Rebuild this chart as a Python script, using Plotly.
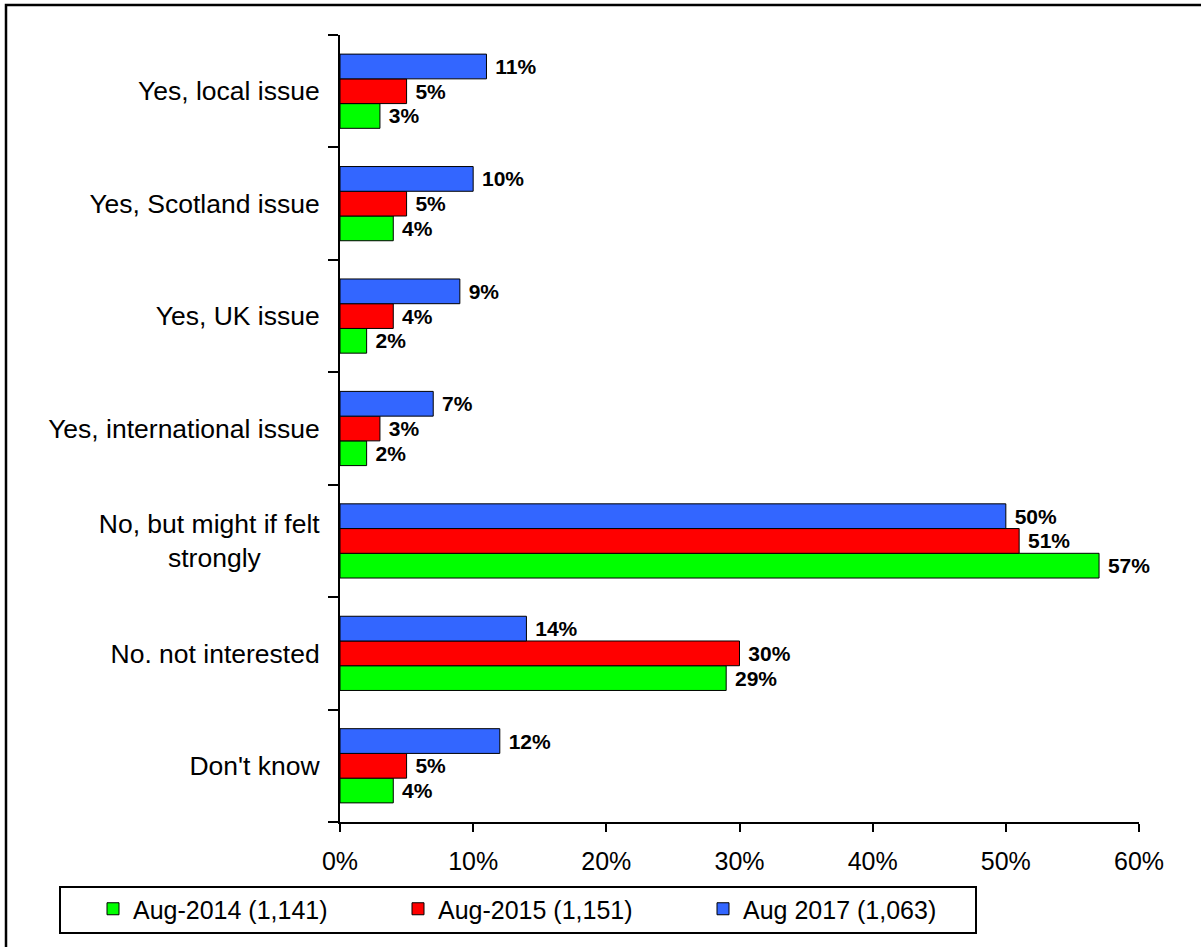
import plotly.graph_objects as go

categories = [
    "Yes, local issue",
    "Yes, Scotland issue",
    "Yes, UK issue",
    "Yes, international issue",
    "No, but might if felt<br>strongly" + "\u00a0" * 8,
    "No. not interested",
    "Don't know",
]
aug_2014 = [3, 4, 2, 2, 57, 29, 4]
aug_2015 = [5, 5, 4, 3, 51, 30, 5]
aug_2017 = [11, 10, 9, 7, 50, 14, 12]

series_names = ["Aug-2014 (1,141)", "Aug-2015 (1,151)", "Aug 2017 (1,063)"]
series_values = [aug_2014, aug_2015, aug_2017]
series_colors = ["#00FF00", "#FF0000", "#3366FF"]
x_ticks = [0, 10, 20, 30, 40, 50, 60]
x_tick_labels = ["0%", "10%", "20%", "30%", "40%", "50%", "60%"]

FONT = "Liberation Sans, Arial, sans-serif"

fig = go.Figure()
for name, vals, col in zip(series_names, series_values, series_colors):
    fig.add_trace(go.Bar(
        name=name,
        y=categories,
        x=vals,
        orientation="h",
        marker=dict(color=col, line=dict(color="black", width=1)),
        text=[f"{v}%" for v in vals],
        texttemplate="\u00a0%{text}",
        textposition="outside",
        constraintext="none",
        cliponaxis=False,
        textfont=dict(family=FONT, size=21, color="black", weight="bold"),
    ))

L, R, T, B = 340, 62, 35, 125
W, H = 1201, 947
pw, ph = W - L - R, H - T - B

def px_x(px):
    return (px - L) / pw

def px_y(py):
    return (H - B - py) / ph

fig.update_layout(
    width=W, height=H,
    margin=dict(l=L, r=R, t=T, b=B, pad=0),
    paper_bgcolor="white", plot_bgcolor="white",
    barmode="group", bargap=0.34, bargroupgap=0,
    font=dict(family=FONT, size=25, color="black"),
    showlegend=True,
    legend=dict(
        orientation="h",
        x=px_x(93), xanchor="left",
        y=px_y(909), yanchor="middle",
        entrywidth=260, entrywidthmode="pixels",
        borderwidth=0, bgcolor="rgba(0,0,0,0)",
        font=dict(family=FONT, size=25, color="black"),
        traceorder="normal",
    ),
    xaxis=dict(
        range=[0, 60], tickvals=x_ticks, ticktext=x_tick_labels,
        showgrid=False, zeroline=False,
        showline=True, linecolor="black", linewidth=2,
        ticks="outside", ticklen=8, tickwidth=2, tickcolor="black",
        ticklabelstandoff=8,
        tickfont=dict(family=FONT, size=25, color="black"),
    ),
    yaxis=dict(
        categoryorder="array", categoryarray=categories[::-1],
        showgrid=False, zeroline=False,
        showline=True, linecolor="black", linewidth=2,
        ticks="outside", tickson="boundaries", ticklen=10, tickwidth=2, tickcolor="black",
        ticklabelstandoff=13,
        tickfont=dict(family=FONT, size=26.5, color="black"),
    ),
    shapes=[
        dict(type="rect", xref="paper", yref="paper",
             x0=px_x(6), x1=px_x(1260), y0=px_y(1000), y1=px_y(5),
             line=dict(color="black", width=2.5), fillcolor="rgba(0,0,0,0)", layer="above"),
        dict(type="rect", xref="paper", yref="paper",
             x0=px_x(60), x1=px_x(976), y0=px_y(933), y1=px_y(887),
             line=dict(color="black", width=2), fillcolor="rgba(0,0,0,0)", layer="above"),
    ],
)

fig.write_html("out.html")
